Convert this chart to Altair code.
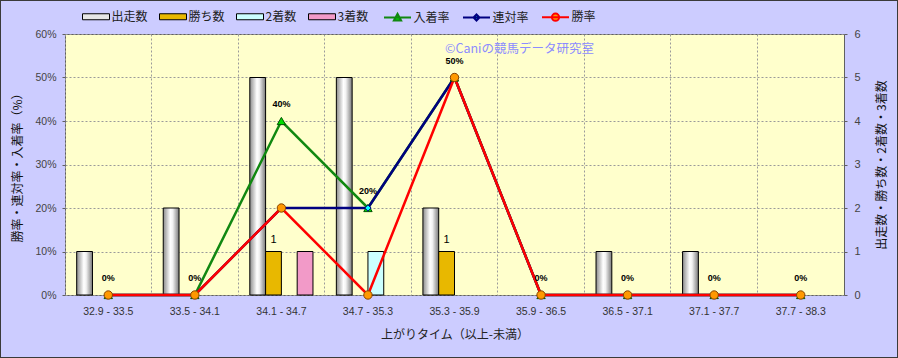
import altair as alt
import pandas as pd

categories = ["32.9 - 33.5", "33.5 - 34.1", "34.1 - 34.7", "34.7 - 35.3", "35.3 - 35.9",
              "35.9 - 36.5", "36.5 - 37.1", "37.1 - 37.7", "37.7 - 38.3"]
runs = [1, 2, 5, 5, 2, 0, 1, 1, 0]
wins = [0, 0, 1, 0, 1, 0, 0, 0, 0]
seconds = [0, 0, 0, 1, 0, 0, 0, 0, 0]
thirds = [0, 0, 1, 0, 0, 0, 0, 0, 0]
place_rate = [0, 0, 40, 20, 50, 0, 0, 0, 0]
quinella_rate = [0, 0, 20, 20, 50, 0, 0, 0, 0]
win_rate = [0, 0, 20, 0, 50, 0, 0, 0, 0]

bar_series = ["出走数", "勝ち数", "2着数", "3着数"]
bar_colors = ["#E6E6E6", "#E8B800", "#CCFFFF", "#F29AC8"]
line_series = ["入着率", "連対率", "勝率"]
line_colors = ["#118811", "#000080", "#FF0000"]
marker_fill = ["#00DD00", "#00FFFF", "#FF9900"]
marker_stroke = ["#005500", "#000080", "#884400"]
marker_shape = ["triangle-up", "diamond", "circle"]
marker_size = [70, 40, 70]

W, H = 779, 261
PAD = {"left": 65, "top": 34, "right": 54, "bottom": 63}

bar_rows = []
for s, vals in zip(bar_series, [runs, wins, seconds, thirds]):
    for c, v in zip(categories, vals):
        bar_rows.append({"cat": c, "series": s, "value": v})
bars_df = pd.DataFrame(bar_rows)

line_rows = []
for s, vals in zip(line_series, [place_rate, quinella_rate, win_rate]):
    for c, v in zip(categories, vals):
        line_rows.append({"cat": c, "series": s, "value": v})
lines_df = pd.DataFrame(line_rows)

LABEL_FONT = "Liberation Sans"
CJK = "Noto Sans CJK JP"

x_enc = alt.X("cat:N", sort=categories,
              scale=alt.Scale(domain=categories, paddingInner=0, paddingOuter=0),
              axis=alt.Axis(title="上がりタイム（以上-未満）", labelAngle=0, ticks=False, domain=False,
                            grid=True, bandPosition=0, gridColor="#9a9a9a", gridDash=[2, 2],
                            labelFont=LABEL_FONT, labelFontSize=10.5, labelColor="#333333",
                            labelPadding=11, titleFont=CJK, titleFontSize=12, titleFontWeight="normal",
                            titleColor="#222222", titlePadding=13))

xoff = alt.XOffset("series:N", scale=alt.Scale(domain=bar_series, paddingInner=0, paddingOuter=0.74))

grad = {"gradient": "linear", "x1": 0, "x2": 1, "y1": 0, "y2": 0,
        "stops": [{"offset": 0, "color": "#8c8c8c"}, {"offset": 0.45, "color": "#ffffff"},
                  {"offset": 0.6, "color": "#f2f2f2"}, {"offset": 1, "color": "#7a7a7a"}]}

y_right = alt.Y("value:Q", scale=alt.Scale(domain=[0, 6], nice=False),
                axis=alt.Axis(orient="right", title="出走数・勝ち数・2着数・3着数", values=[0, 1, 2, 3, 4, 5, 6],
                              grid=False, domain=False, tickSize=3, tickColor="#606060",
                              labelFont=LABEL_FONT, labelFontSize=11, labelColor="#444444", labelPadding=7,
                              titleAngle=270, titleBaseline="top", titleFont=CJK, titleFontSize=12,
                              titleFontWeight="normal", titleColor="#111111", titlePadding=16))

bar_legend = alt.Legend(title=None, orient="none", legendX=17, legendY=-28, direction="horizontal",
                        symbolType="M-1.35,-0.3H1.35V0.3H-1.35Z", symbolSize=400,
                        symbolStrokeColor="#000000", symbolStrokeWidth=1, symbolOffset=3.5,
                        labelOffset=5, columnPadding=9, padding=0,
                        labelFont=CJK, labelFontSize=12, labelColor="#222222")

bar_layer = alt.Chart(bars_df).transform_filter(alt.datum.value > 0).mark_bar(
    stroke="#000000", strokeWidth=1, opacity=1
).encode(
    x=x_enc, xOffset=xoff, y=y_right,
    color=alt.condition(alt.datum.series == "出走数", alt.value(grad),
                        alt.Color("series:N", scale=alt.Scale(domain=bar_series, range=bar_colors),
                                  legend=bar_legend))
)

bar_text = alt.Chart(bars_df).transform_filter(
    (alt.datum.series == "勝ち数") & (alt.datum.value > 0)
).mark_text(dy=-12, fontSize=11, font=LABEL_FONT, color="#000000").encode(
    x=x_enc, xOffset=xoff, y=y_right, text=alt.Text("value:Q")
)

bars = alt.layer(bar_layer, bar_text)

y_left = alt.Y("value:Q", scale=alt.Scale(domain=[0, 60], nice=False),
               axis=alt.Axis(orient="left", title="勝率・連対率・入着率（%）", values=[0, 10, 20, 30, 40, 50, 60],
                             labelExpr="datum.value + '%'", grid=True, gridColor="#9a9a9a", gridDash=[2, 2],
                             domain=False, tickSize=3, tickColor="#606060",
                             labelFont=LABEL_FONT, labelFontSize=10.5, labelColor="#444444", labelPadding=6,
                             titleFont=CJK, titleFontSize=12, titleFontWeight="normal",
                             titleColor="#111111", titlePadding=10))

line_layers = []
point_layers = []
for name, col, mf, ms, shp, sz in zip(line_series, line_colors, marker_fill, marker_stroke, marker_shape, marker_size):
    base = alt.Chart(lines_df).transform_filter(alt.datum.series == name)
    line_layers.append(base.mark_line(color=col, strokeWidth=2.5).encode(x=x_enc, y=y_left))
    point_layers.append(base.mark_point(shape=shp, filled=True, fill=mf, stroke=ms, strokeWidth=1,
                                        size=sz, opacity=1).encode(x=x_enc, y=y_left))

pct_labels = alt.Chart(lines_df).transform_filter(alt.datum.series == "入着率").transform_calculate(
    lab="datum.value + '%'"
).mark_text(dy=-17, fontSize=9, fontWeight="bold", font=LABEL_FONT, color="#000000").encode(
    x=x_enc, y=y_left, text="lab:N"
)

line_legend = alt.Legend(title=None, orient="none", legendX=318, legendY=-28, direction="horizontal",
                         symbolSize=400, symbolStrokeWidth=2, symbolOffset=3.5, labelOffset=5,
                         columnPadding=9, padding=0,
                         labelFont=CJK, labelFontSize=12, labelColor="#222222")
legend_paths = [
    "M-1.35,0H1.35M0,-0.38L0.36,0.28L-0.36,0.28Z",
    "M-1.35,0H1.35M0,-0.3L0.3,0L0,0.3L-0.3,0Z",
    "M-1.35,0H1.35M0.36,0A0.36,0.36 0 1,1 -0.36,0A0.36,0.36 0 1,1 0.36,0Z",
]
legend_dummy = alt.Chart(lines_df).transform_filter("false").mark_point(filled=True, opacity=1).encode(
    x=x_enc, y=y_left,
    fill=alt.Fill("series:N", scale=alt.Scale(domain=line_series, range=marker_fill), legend=line_legend),
    stroke=alt.Stroke("series:N", scale=alt.Scale(domain=line_series, range=line_colors), legend=line_legend),
    shape=alt.Shape("series:N", scale=alt.Scale(domain=line_series, range=legend_paths), legend=line_legend),
)

watermark = alt.Chart(alt.Data(values=[{}])).mark_text(
    align="left", baseline="middle", fontSize=12.5, font=CJK, color="#8C8CFF"
).encode(x=alt.value(380), y=alt.value(15), text=alt.value("©Caniの競馬データ研究室"))

frame = alt.Chart(alt.Data(values=[{}])).mark_rect(
    fill="transparent", stroke="#3a3a3a", strokeWidth=2
).encode(x=alt.value(-PAD["left"]), x2=alt.value(W + PAD["right"]),
         y=alt.value(-PAD["top"]), y2=alt.value(H + PAD["bottom"]))

lines = alt.layer(*line_layers, *point_layers, pct_labels, legend_dummy, watermark, frame)

chart = alt.layer(bars, lines).resolve_scale(y="independent").properties(
    width=W, height=H, padding=PAD, autosize=alt.AutoSizeParams(type="none"),
    background="#CCCCFF"
).configure(font=CJK).configure_view(fill="#FFFFCC", stroke="#606060", strokeWidth=1)

chart.save("out.html", embed_options={"renderer": "svg", "actions": False})
